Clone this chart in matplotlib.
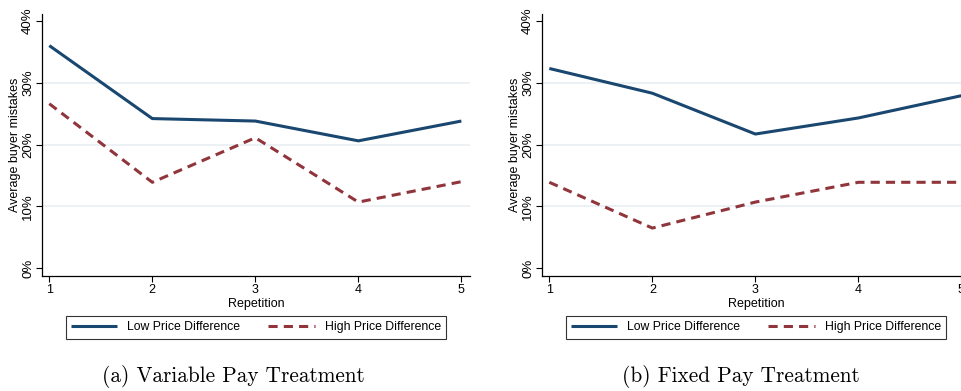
import matplotlib.pyplot as plt
from matplotlib.ticker import FuncFormatter

repetition = [1, 2, 3, 4, 5]
variable_low = [36.0, 24.2, 23.8, 20.6, 23.8]
variable_high = [26.6, 13.9, 21.1, 10.7, 14.0]
fixed_low = [32.3, 28.3, 21.7, 24.3, 27.9]
fixed_high = [13.9, 6.5, 10.7, 13.9, 13.9]
yticks = [0, 10, 20, 30, 40]
captions = ["(a) Variable Pay Treatment", "(b) Fixed Pay Treatment"]

navy = "#1a476f"
maroon = "#90353b"
grid_col = "#e8eff2"
sans = ["Liberation Sans", "DejaVu Sans"]

fig = plt.figure(figsize=(9.62, 3.91), dpi=100)
axes = [fig.add_axes([0.0433, 0.2941, 0.4453, 0.670]),
        fig.add_axes([0.5631, 0.2941, 0.4453, 0.670])]
panels = [(variable_low, variable_high), (fixed_low, fixed_high)]

for ax, (low, high), cap in zip(axes, panels, captions):
    for g in [10, 20, 30]:
        ax.axhline(g, color=grid_col, lw=1.2, zorder=0)
    ax.plot(repetition, low, color=navy, lw=2.2, label="Low Price Difference",
            solid_capstyle="butt")
    ax.plot(repetition, high, color=maroon, lw=2.2, dashes=(3.0, 2.0),
            label="High Price Difference")
    ax.set_xlim(0.926, 5.084)
    ax.set_ylim(-1.25, 41.1)
    ax.set_xticks(repetition)
    ax.set_yticks(yticks)
    ax.yaxis.set_major_formatter(FuncFormatter(lambda v, p: f"{v:.0f}%"))
    for s in ["top", "right"]:
        ax.spines[s].set_visible(False)
    ax.spines["left"].set_linewidth(0.9)
    ax.spines["bottom"].set_linewidth(0.9)
    ax.tick_params(axis="y", length=4, width=0.8, labelsize=9.5, pad=1.5)
    ax.tick_params(axis="x", length=4, width=0.8, labelsize=9, pad=2)
    for lab in ax.get_yticklabels():
        lab.set_rotation(90)
        lab.set_va("center")
        lab.set_family(sans)
    for lab in ax.get_xticklabels():
        lab.set_family(sans)
    ax.set_xlabel("Repetition", fontsize=9, family=sans, labelpad=1)
    ax.set_ylabel("Average buyer mistakes", fontsize=9, family=sans, labelpad=0.5)
    leg = ax.legend(loc="center", bbox_to_anchor=(0.5, -0.195), ncol=2,
                    frameon=True, fancybox=False, edgecolor="black",
                    prop={"family": sans, "size": 8.8}, handlelength=3.8,
                    columnspacing=2.3, borderpad=0.45, handletextpad=0.8)
    leg.get_frame().set_linewidth(0.8)

fig.text(233 / 962, 1 - 377 / 391, captions[0], ha="center", va="center",
         family="cmr10", fontsize=15.3)
fig.text(741 / 962, 1 - 377 / 391, captions[1], ha="center", va="center",
         family="cmr10", fontsize=15.3)

fig.savefig("out.png", dpi=100)
